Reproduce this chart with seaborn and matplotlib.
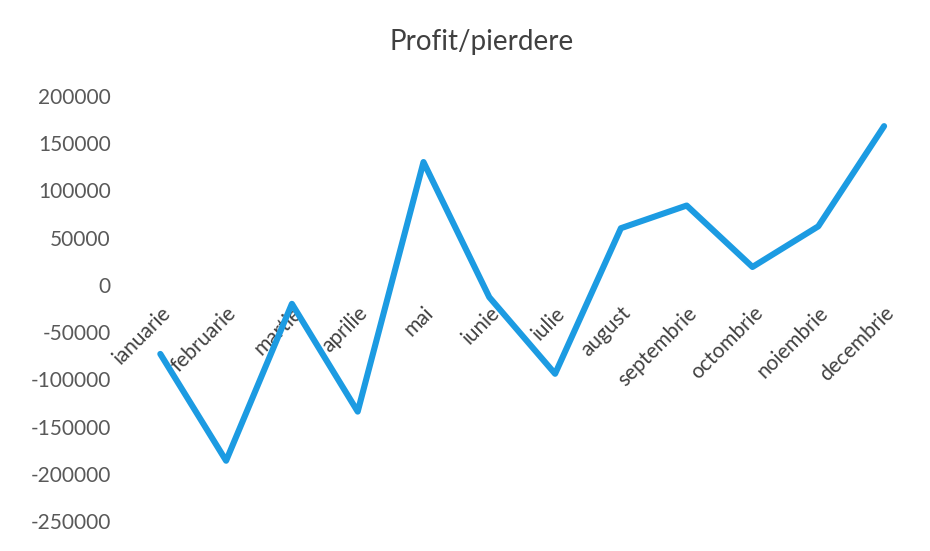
import numpy as np
import matplotlib
matplotlib.use('Agg')
import matplotlib.pyplot as plt
import seaborn as sns
import pandas as pd

# date
luni = ['ianuarie', 'februarie', 'martie', 'aprilie', 'mai', 'iunie',
        'iulie', 'august', 'septembrie', 'octombrie', 'noiembrie', 'decembrie']
profit = [-73000, -186000, -20000, -134000, 130000, -13000,
          -94000, 60000, 84000, 19000, 62000, 168000]
y_ticks = [-250000, -200000, -150000, -100000, -50000, 0,
           50000, 100000, 150000, 200000]

df = pd.DataFrame({'luna': luni, 'profit': profit})
df['poz'] = np.arange(len(luni))

sns.set_theme(style='white')
plt.rcParams['font.family'] = ['Lato', 'DejaVu Sans']

fig = plt.figure(figsize=(9.3, 5.51), dpi=100)
ax = fig.add_axes([0.137, 0.054, 0.849, 0.772])

sns.lineplot(data=df, x='poz', y='profit', color='#1C9BE2', linewidth=4.4,
             sort=False, ax=ax)

# axa x trece prin zero, fara linie vizibila (inainte de etichete, altfel se reseteaza)
ax.spines['bottom'].set_position(('data', 0))
for s in ax.spines.values():
    s.set_color('none')

ax.set_xlim(-0.5, len(luni) - 0.5)
ax.set_ylim(-250000, 200000)
ax.set_yticks(y_ticks)
ax.set_yticklabels([str(v) for v in y_ticks])
ax.set_xticks(df['poz'])
ax.set_xticklabels(luni)

ax.tick_params(axis='y', length=0, pad=12, labelsize=15, labelcolor='#595959')
ax.tick_params(axis='x', length=0, pad=13, labelsize=15, labelcolor='#404040')
plt.setp(ax.get_xticklabels(), rotation=45, ha='right', va='top',
         rotation_mode='anchor')
ax.set_xlabel('')
ax.set_ylabel('')

fig.text(0.518, 0.923, 'Profit/pierdere', ha='center', va='center',
         fontsize=20, color='#404040')

plt.savefig('out.png', dpi=100)
plt.close()
